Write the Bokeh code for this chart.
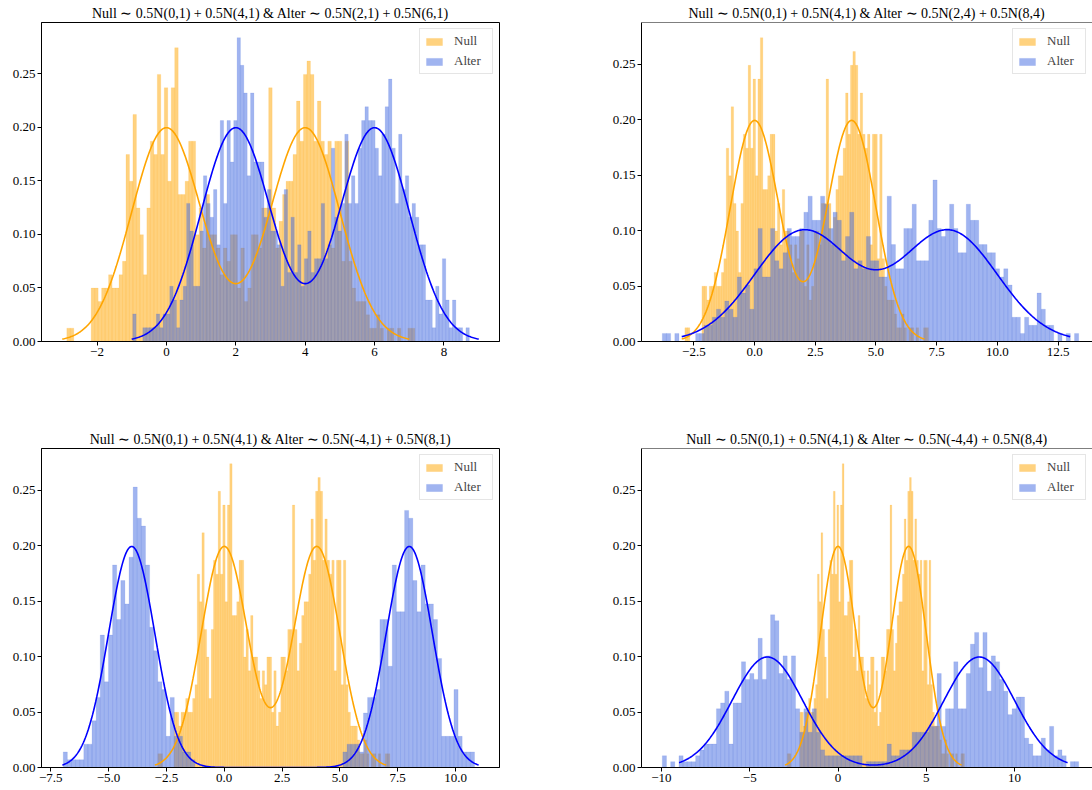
import numpy as np
from bokeh.plotting import figure
from bokeh.layouts import column, row
from bokeh.models import (ColumnDataSource, FixedTicker, CustomJSTickFormatter,
                          Span, Range1d)
from bokeh.embed import file_html
from bokeh.resources import INLINE

# ---------------- data ----------------
N_SAMPLES = 800

# Null sample histogram (same sample in all four panels): 100 bins
null_start = -2.87
null_width = 0.1003
null_counts = [
    1, 1, 0, 0, 0, 0, 0, 4, 4, 3,
    4, 4, 5, 4, 4, 5, 6, 14, 12, 17,
    10, 8, 5, 10, 15, 14, 20, 14, 19, 12,
    19, 22, 11, 11, 12, 15, 15, 8, 10, 7,
    11, 8, 8, 7, 5, 7, 6, 8, 8, 4,
    7, 3, 4, 8, 8, 7, 10, 10, 19, 10,
    7, 9, 11, 12, 12, 14, 18, 15, 20, 21,
    20, 15, 18, 15, 14, 15, 7, 15, 15, 6,
    15, 6, 4, 3, 3, 3, 2, 1, 1, 2,
    1, 0, 1, 1, 0, 1, 0, 0, 1, 1]

alter1_counts = [
    2, 0, 0, 1, 1, 1, 1, 2, 1, 2,
    2, 4, 3, 1, 3, 4, 10, 8, 4, 4,
    8, 12, 10, 9, 11, 7, 16, 10, 16, 13,
    16, 22, 20, 18, 12, 18, 13, 13, 13, 9,
    11, 8, 8, 7, 4, 11, 5, 9, 5, 7,
    4, 6, 8, 5, 6, 6, 10, 6, 7, 14,
    9, 8, 10, 15, 10, 12, 10, 14, 16, 17,
    16, 16, 14, 12, 15, 17, 19, 14, 10, 15,
    11, 12, 9, 10, 9, 7, 7, 3, 3, 1,
    4, 2, 6, 3, 1, 3, 1, 1, 0, 1]

alter2_counts = [
    1, 1, 0, 1, 0, 0, 0, 0, 1, 1,
    2, 2, 3, 4, 3, 5, 4, 3, 8, 6,
    7, 4, 9, 14, 8, 8, 14, 10, 9, 11,
    14, 13, 13, 14, 16, 18, 15, 15, 18, 17,
    14, 16, 15, 10, 13, 16, 9, 10, 9, 13,
    10, 10, 8, 8, 18, 12, 9, 9, 14, 14,
    17, 10, 10, 10, 15, 20, 14, 13, 14, 17,
    14, 11, 11, 17, 15, 15, 12, 12, 11, 11,
    9, 8, 9, 7, 3, 3, 1, 3, 2, 2,
    6, 4, 2, 2, 0, 1, 0, 1, 0, 1]

alter3_counts = [
    2, 1, 1, 1, 1, 3, 3, 6, 9, 17,
    11, 17, 26, 19, 24, 21, 27, 36, 32, 31,
    26, 18, 15, 11, 10, 4, 9, 4, 4, 2,
    2, 1, 0, 0, 0, 0, 0, 0, 0, 0,
    0, 0, 0, 0, 0, 0, 0, 0, 0, 0,
    0, 0, 0, 0, 0, 0, 0, 0, 0, 0,
    0, 0, 0, 0, 0, 0, 0, 0, 2, 3,
    3, 3, 2, 7, 9, 9, 10, 19, 19, 13,
    26, 20, 20, 33, 32, 24, 20, 26, 21, 21,
    19, 14, 4, 4, 4, 10, 4, 2, 2, 2]

alter4_counts = [
    2, 0, 1, 0, 2, 1, 1, 1, 2, 3,
    4, 4, 4, 10, 11, 13, 4, 11, 11, 18,
    15, 16, 15, 22, 15, 19, 26, 25, 16, 19,
    15, 19, 10, 6, 10, 6, 10, 6, 3, 2,
    2, 2, 2, 2, 2, 2, 2, 2, 0, 1,
    1, 1, 1, 1, 4, 2, 2, 3, 3, 3,
    6, 6, 6, 6, 7, 7, 16, 7, 10, 10,
    18, 10, 10, 16, 21, 23, 17, 23, 13, 19,
    18, 15, 13, 9, 10, 12, 12, 5, 4, 2,
    2, 5, 3, 7, 2, 3, 2, 0, 1, 1]

alter_counts = [alter1_counts, alter2_counts, alter3_counts, alter4_counts]
alter_starts = [-0.97, -3.80, -6.96, -9.95]
alter_widths = [0.0970, 0.1715, 0.1778, 0.2358]

# mixture parameters (from the titles; "4" is a variance -> sd 2)
null_means = [0, 4]
null_sd = 1
alter_means = [[2, 6], [2, 8], [-4, 8], [-4, 8]]
alter_sds = [1, 2, 1, 2]
null_curve_range = (-3, 7)
alter_curve_ranges = [(-1, 9), (-3, 13), (-7, 11), (-9, 13)]

null_label = "0.5N(0,1) + 0.5N(4,1)"
alter_labels = ["0.5N(2,1) + 0.5N(6,1)", "0.5N(2,4) + 0.5N(8,4)",
                "0.5N(-4,1) + 0.5N(8,1)", "0.5N(-4,4) + 0.5N(8,4)"]

x_ticks = [[-2, 0, 2, 4, 6, 8],
           [-2.5, 0, 2.5, 5, 7.5, 10, 12.5],
           [-7.5, -5, -2.5, 0, 2.5, 5, 7.5, 10],
           [-10, -5, 0, 5, 10]]
x_decimals = [0, 1, 1, 0]
y_ticks = [0, 0.05, 0.10, 0.15, 0.20, 0.25]

# ---------------- styling ----------------
FONT = "Liberation Serif"
NULL_COLOR = "#FFA500"
ALTER_COLOR = "#4169E1"
NULL_LINE = "#FFA500"
ALTER_LINE = "#0000FF"

FMT_CODE = """
const s = Math.abs(tick).toFixed(d);
return (tick < -1e-9 ? "\\u2212" : "") + s;
"""


def hist_source(start, width, counts):
    counts = np.asarray(counts, dtype=float)
    left = start + width * np.arange(len(counts))
    return ColumnDataSource(dict(left=left, right=left + width,
                                 top=counts / (N_SAMPLES * width),
                                 bottom=np.zeros(len(counts))))


def mixture(x, means, sd):
    x = np.asarray(x)
    out = np.zeros_like(x)
    for m in means:
        out += 0.5 * np.exp(-0.5 * ((x - m) / sd) ** 2) / (sd * np.sqrt(2 * np.pi))
    return out


def make_panel(k):
    right_side = (k % 2 == 1)
    top_row = (k < 2)

    null_src = hist_source(null_start, null_width, null_counts)
    alt_src = hist_source(alter_starts[k], alter_widths[k], alter_counts[k])

    xn = np.linspace(null_curve_range[0], null_curve_range[1], 400)
    xa = np.linspace(alter_curve_ranges[k][0], alter_curve_ranges[k][1], 400)
    yn = mixture(xn, null_means, null_sd)
    ya = mixture(xa, alter_means[k], alter_sds[k])

    lo = min(null_start, alter_starts[k], null_curve_range[0], alter_curve_ranges[k][0])
    hi = max(null_start + null_width * len(null_counts),
             alter_starts[k] + alter_widths[k] * len(alter_counts[k]),
             null_curve_range[1], alter_curve_ranges[k][1])
    span = hi - lo
    xs, xe = lo - 0.05 * span, hi + 0.05 * span
    frame_w = 458
    if right_side:
        frame_w = 451
        xe = xs + (xe - xs) * 451.0 / 458.0   # the window cuts the right panels
    ymax = max(max(null_src.data["top"]), max(alt_src.data["top"]),
               max(yn), max(ya)) * 1.05

    p = figure(width=(81 + frame_w) if right_side else 560,
               height=401 if top_row else 389,
               x_range=Range1d(xs, xe), y_range=Range1d(0, ymax),
               output_backend="svg", toolbar_location=None,
               min_border_left=81 if right_side else 41,
               min_border_right=0 if right_side else 61,
               min_border_top=22 if top_row else 47,
               min_border_bottom=60 if top_row else 23,
               title="Null \u223c " + null_label + " & Alter \u223c " + alter_labels[k])

    p.quad(left="left", right="right", top="top", bottom="bottom", source=null_src,
           fill_color=NULL_COLOR, fill_alpha=0.5,
           line_color=NULL_COLOR, line_alpha=0.25, line_width=0.5,
           legend_label="Null")
    p.quad(left="left", right="right", top="top", bottom="bottom", source=alt_src,
           fill_color=ALTER_COLOR, fill_alpha=0.5,
           line_color=ALTER_COLOR, line_alpha=0.25, line_width=0.5,
           legend_label="Alter")
    p.line(xn, yn, line_color=NULL_LINE, line_width=1.6)
    p.line(xa, ya, line_color=ALTER_LINE, line_width=1.6)

    p.title.text_font = FONT
    p.title.text_font_size = "14px"
    p.title.text_font_style = "normal"
    p.title.align = "center"
    p.title.standoff = 4
    p.title.text_color = "black"

    p.grid.visible = False
    p.background_fill_color = "white"
    p.border_fill_color = "white"
    if right_side:
        p.outline_line_color = None
        p.add_layout(Span(location=ymax, dimension="width",
                          line_color="black", line_width=1))
    else:
        p.outline_line_color = "black"
        p.outline_line_width = 1
        p.outline_line_alpha = 1

    p.xaxis.ticker = FixedTicker(ticks=x_ticks[k])
    p.xaxis.formatter = CustomJSTickFormatter(args=dict(d=x_decimals[k]), code=FMT_CODE)
    p.yaxis.ticker = FixedTicker(ticks=y_ticks)
    p.yaxis.formatter = CustomJSTickFormatter(args=dict(d=2), code=FMT_CODE)
    for ax in (p.xaxis, p.yaxis):
        ax.minor_tick_line_color = None
        ax.major_tick_in = 0
        ax.major_tick_out = 4
        ax.major_tick_line_color = "black"
        ax.axis_line_color = "black"
        ax.axis_line_width = 1
        ax.major_label_text_font = FONT
        ax.major_label_text_font_size = "13px"
        ax.major_label_text_color = "black"
        ax.major_label_standoff = 2

    lg = p.legend[0]
    lg.location = "top_right"
    lg.label_text_font = FONT
    lg.label_text_font_size = "13px"
    lg.glyph_width = 20
    lg.glyph_height = 9
    lg.label_standoff = 10
    lg.label_height = 14
    lg.label_width = 34
    lg.padding = 4
    lg.spacing = 4
    lg.margin = 6
    lg.border_line_color = "#cccccc"
    lg.border_line_width = 1
    lg.background_fill_alpha = 0.8
    return p


panels = [make_panel(k) for k in range(4)]
layout = column(row(panels[0], panels[1], spacing=0),
                row(panels[2], panels[3], spacing=0), spacing=0)

open("out.html", "w").write(file_html(layout, INLINE))
